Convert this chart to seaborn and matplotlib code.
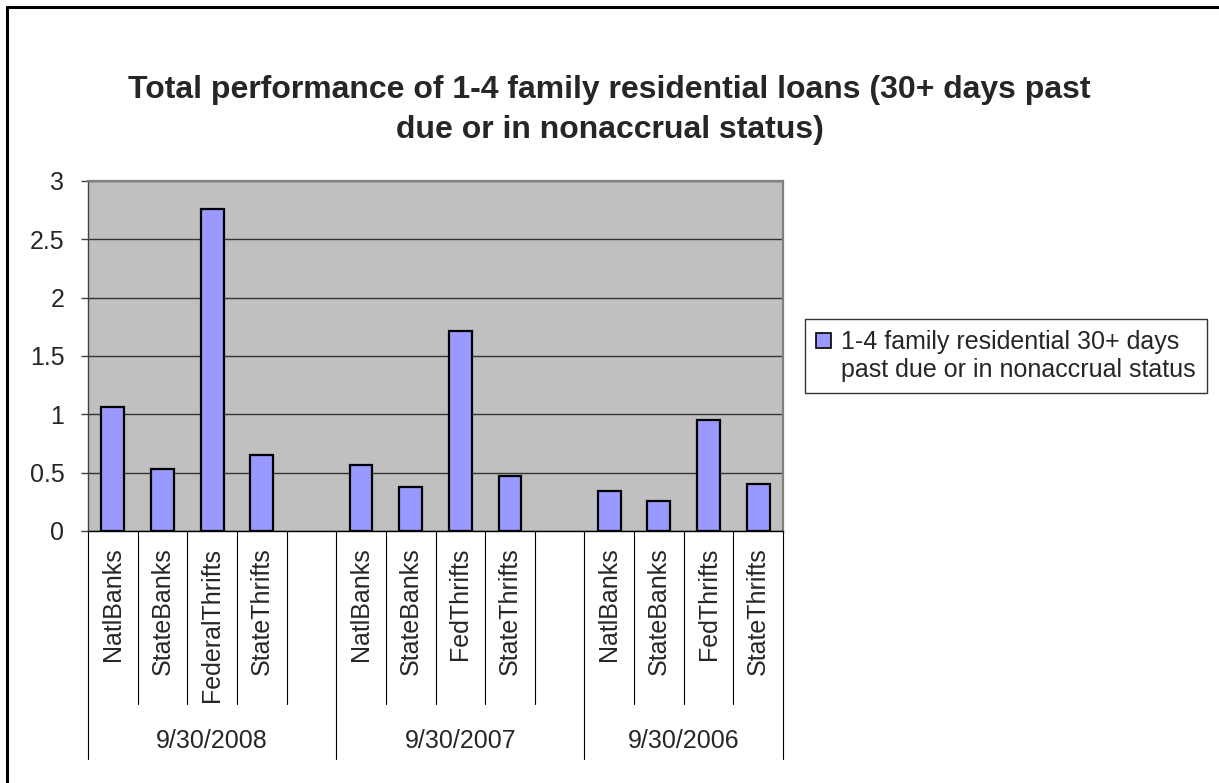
import numpy as np
import pandas as pd
import matplotlib
matplotlib.use('agg')
import matplotlib.pyplot as plt
import matplotlib.transforms as mtransforms
from matplotlib.patches import Patch
import seaborn as sns

TITLE = "Total performance of 1-4 family residential loans (30+ days past\ndue or in nonaccrual status)"
LEGEND_1 = "1-4 family residential 30+ days"
LEGEND_2 = "past due or in nonaccrual status"

DATES = ["9/30/2008", "9/30/2007", "9/30/2006"]
INST_2008 = ["NatlBanks", "StateBanks", "FederalThrifts", "StateThrifts"]
INST_2007 = ["NatlBanks", "StateBanks", "FedThrifts", "StateThrifts"]
INST_2006 = ["NatlBanks", "StateBanks", "FedThrifts", "StateThrifts"]
VAL_2008 = [1.06, 0.53, 2.76, 0.65]
VAL_2007 = [0.57, 0.38, 1.71, 0.47]
VAL_2006 = [0.34, 0.26, 0.95, 0.40]

BAR = "#9999FF"
PLOT_BG = "#C0C0C0"

W, H = 1219, 783


def build_data():
    groups = [(DATES[0], INST_2008, VAL_2008),
              (DATES[1], INST_2007, VAL_2007),
              (DATES[2], INST_2006, VAL_2006)]
    rows = []
    order = []
    spans = []
    for gi, (date, insts, vals) in enumerate(groups):
        start = len(order)
        for inst, v in zip(insts, vals):
            key = date + "|" + inst
            rows.append({"key": key, "value": v})
            order.append(key)
        # empty slot between date groups
        if gi < len(groups) - 1:
            order.append(date + "|")
        spans.append((date, start, len(order)))
    return pd.DataFrame(rows), order, spans


def main(output):
    df, order, spans = build_data()

    sns.set_style("white")
    plt.rcParams['font.family'] = ['Liberation Sans', 'DejaVu Sans']

    fig = plt.figure(figsize=(W / 100, H / 100), dpi=100)
    ax = fig.add_axes([88 / W, 1 - 531 / H, 695 / W, 350 / H])
    ax.set_facecolor(PLOT_BG)

    sns.barplot(data=df, x="key", y="value", order=order, color=BAR,
                saturation=1, edgecolor="black", linewidth=1.6, width=0.46,
                ax=ax, zorder=3)

    ax.set_xlim(-0.5, len(order) - 0.5)
    ax.set_ylim(0, 3)
    yt = np.arange(0, 3.01, 0.5)
    ax.set_yticks(yt)
    ax.set_yticklabels([f"{v:g}" for v in yt], fontsize=18)
    ax.yaxis.grid(True, color="#333333", linewidth=1.0, zorder=1)
    ax.set_axisbelow(True)

    ax.set_xticks(range(len(order)))
    ax.set_xticklabels([k.split("|")[1] for k in order], rotation=90, fontsize=18)
    ax.tick_params(axis='x', length=0, pad=12)
    ax.tick_params(axis='y', length=5, width=1, color="#404040", pad=12, left=True)
    ax.set(xlabel='', ylabel='')

    for side in ["top", "right"]:
        ax.spines[side].set_color("#808080")
        ax.spines[side].set_linewidth(1.6)
    ax.spines["left"].set_color("#404040")
    ax.spines["left"].set_linewidth(1.0)
    ax.spines["bottom"].set_color("black")
    ax.spines["bottom"].set_linewidth(1.0)

    # category separators below the axis
    trans = mtransforms.blended_transform_factory(ax.transData, ax.transAxes)
    short_end = (531 - 704) / 350
    long_end = (531 - 759) / 350
    bounds = {s for _, s, _ in spans} | {spans[-1][2]}
    for i in range(len(order) + 1):
        x = i - 0.5
        yend = long_end if i in bounds else short_end
        ax.plot([x, x], [0, yend], color="black", linewidth=0.8,
                transform=trans, clip_on=False)
    for date, s, e in spans:
        ax.text((s + e - 1) / 2, (531 - 741) / 350, date, transform=trans,
                ha="center", va="center", fontsize=18)

    fig.text(0.5, 1 - 110 / H, TITLE, ha="center", va="center",
             fontsize=23, fontweight="bold", linespacing=1.4)

    handles = [Patch(facecolor=BAR, edgecolor="black", linewidth=1.2),
               Patch(visible=False)]
    leg = fig.legend(handles, [LEGEND_1, LEGEND_2], loc="upper left",
                     bbox_to_anchor=(805 / W, 1 - 319 / H), fontsize=18,
                     frameon=True, fancybox=False, edgecolor="black",
                     handlelength=0.6, handleheight=0.6, handletextpad=0.4,
                     labelspacing=0.15, borderpad=0.45, borderaxespad=0)
    leg.get_frame().set_linewidth(1.0)

    # outer chart border (top and left visible)
    fig.add_artist(plt.Line2D([7 / W, 7 / W], [0, 1 - 7 / H], color="black",
                              linewidth=2.2, transform=fig.transFigure))
    fig.add_artist(plt.Line2D([7 / W, 1], [1 - 7 / H, 1 - 7 / H], color="black",
                              linewidth=2.2, transform=fig.transFigure))

    fig.savefig(output, dpi=100)


if __name__ == "__main__":
    main("out.png")
